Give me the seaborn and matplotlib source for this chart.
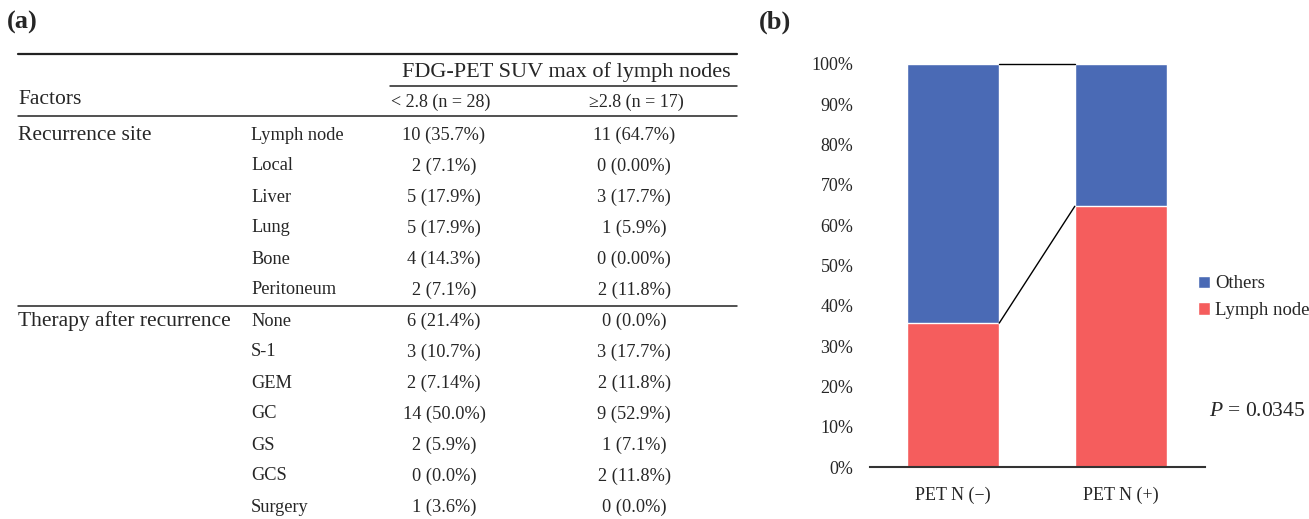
import matplotlib
matplotlib.use("Agg")
import matplotlib.pyplot as plt
from matplotlib.patches import Patch
import seaborn as sns
import pandas as pd

# ---- table data: recurrence pattern by FDG-PET SUVmax of lymph nodes ----
col_header = "FDG-PET SUV max of lymph nodes"
col_groups = ["< 2.8 (n = 28)", "\u22652.8 (n = 17)"]

recurrence_sites = ["Lymph node", "Local", "Liver", "Lung", "Bone", "Peritoneum"]
recurrence_low = ["10 (35.7%)", "2 (7.1%)", "5 (17.9%)", "5 (17.9%)", "4 (14.3%)", "2 (7.1%)"]
recurrence_high = ["11 (64.7%)", "0 (0.00%)", "3 (17.7%)", "1 (5.9%)", "0 (0.00%)", "2 (11.8%)"]

therapies = ["None", "S-1", "GEM", "GC", "GS", "GCS", "Surgery"]
therapy_low = ["6 (21.4%)", "3 (10.7%)", "2 (7.14%)", "14 (50.0%)", "2 (5.9%)", "0 (0.0%)", "1 (3.6%)"]
therapy_high = ["0 (0.0%)", "3 (17.7%)", "2 (11.8%)", "9 (52.9%)", "1 (7.1%)", "2 (11.8%)", "0 (0.0%)"]

# ---- bar data: share of lymph-node recurrence ----
pet_groups = ["PET N (\u2212)", "PET N (+)"]
lymph_node_pct = [35.7, 64.7]
others_pct = [100 - v for v in lymph_node_pct]
p_text = "= 0.0345"

BLUE = "#4A6AB5"
RED = "#F55D5D"

sns.set_theme(style="white")
plt.rcParams["font.family"] = ["Liberation Serif", "DejaVu Serif"]
plt.rcParams["mathtext.fontset"] = "custom"
plt.rcParams["mathtext.it"] = "Liberation Serif:italic"

W, H = 1309, 519
fig = plt.figure(figsize=(W / 100, H / 100), dpi=100)

# ---------------- (a) table, laid out in pixel space ----------------
tab = fig.add_axes([0, 0, 1, 1])
tab.set_xlim(0, W)
tab.set_ylim(H, 0)
tab.axis("off")
tab.patch.set_alpha(0)

FS_FACTOR = 15.5   # left-hand factor names
FS_HEAD = 16       # spanning column header
FS_GROUP = 13      # group sub-headers
FS_CELL = 13.2     # sub-labels and counts
x_factor, x_sub = 18, 251
x_cols = [444, 634]
x_groups = [441, 636]
tab.text(7, 22, "(a)", fontsize=19, fontweight="bold", va="center", ha="left")
tab.text(759, 22, "(b)", fontsize=19, fontweight="bold", va="center", ha="left")

tab.plot([18, 737], [54, 54], color="#222222", lw=1.6)
tab.text(566, 72, col_header, fontsize=FS_HEAD, ha="center", va="center")
tab.plot([390, 737], [86, 86], color="#222222", lw=1.1)
tab.text(x_factor, 99, "Factors", fontsize=FS_FACTOR, ha="left", va="center")
for xc, g in zip(x_groups, col_groups):
    tab.text(xc, 102, g, fontsize=FS_GROUP, ha="center", va="center")
tab.plot([18, 737], [116, 116], color="#222222", lw=1.1)

y0, dy = 135, 31.0
rows = list(zip(recurrence_sites, recurrence_low, recurrence_high)) + \
       list(zip(therapies, therapy_low, therapy_high))
for i, (name, lo, hi) in enumerate(rows):
    y = y0 + i * dy
    tab.text(x_sub, y, name, fontsize=FS_CELL, ha="left", va="center")
    tab.text(x_cols[0], y, lo, fontsize=FS_CELL, ha="center", va="center")
    tab.text(x_cols[1], y, hi, fontsize=FS_CELL, ha="center", va="center")
tab.text(x_factor, y0, "Recurrence site", fontsize=FS_FACTOR, ha="left", va="center")
y_ther = y0 + len(recurrence_sites) * dy
tab.text(x_factor, y_ther, "Therapy after recurrence", fontsize=FS_FACTOR, ha="left", va="center")
sep = y0 + (len(recurrence_sites) - 0.5) * dy
tab.plot([18, 737], [sep, sep], color="#222222", lw=1.1)

# ---------------- (b) stacked bar chart ----------------
ax_l, ax_r, ax_b, ax_t = 870, 1205, 467, 64
ax = fig.add_axes([ax_l / W, 1 - ax_b / H, (ax_r - ax_l) / W, (ax_b - ax_t) / H])

df = pd.DataFrame({"group": pet_groups, "lymph": lymph_node_pct, "others": others_pct})
df["total"] = df["lymph"] + df["others"]
sns.barplot(data=df, x="group", y="total", color=BLUE, saturation=1, width=0.55, ax=ax)
sns.barplot(data=df, x="group", y="lymph", color=RED, saturation=1, width=0.55, ax=ax)

# connector lines between the bars at the stack boundaries
bars_total = ax.patches[:2]
bars_lymph = ax.patches[2:4]
for bars in (bars_total, bars_lymph):
    b0, b1 = bars
    ax.plot([b0.get_x() + b0.get_width(), b1.get_x()],
            [b0.get_height(), b1.get_height()], color="black", lw=1.0, clip_on=False)

ax.set_xlim(-0.494, 1.5)
ax.set_ylim(0, 100)
ax.set_yticks(range(0, 101, 10))
ax.set_yticklabels([f"{v}%" for v in range(0, 101, 10)], fontsize=13)
ax.tick_params(axis="y", length=0, pad=12)
ax.tick_params(axis="x", length=0, pad=14, labelsize=13)
ax.set_xlabel("")
ax.set_ylabel("")
for s in ("left", "right", "top"):
    ax.spines[s].set_visible(False)
ax.spines["bottom"].set_color("#333333")
ax.spines["bottom"].set_linewidth(1.5)
ax.patch.set_alpha(0)

handles = [Patch(facecolor=BLUE, label="Others"), Patch(facecolor=RED, label="Lymph node")]
fig.legend(handles=handles, loc="upper left", bbox_to_anchor=(1190 / W, 1 - 268 / H),
           frameon=False, fontsize=13.5, handlelength=0.65, handleheight=0.65,
           handletextpad=0.3, labelspacing=0.5, borderaxespad=0)

fig.text(1209 / W, 1 - 412 / H, r"$P$ " + p_text, fontsize=15.5, ha="left", va="center")

fig.savefig("out.png", dpi=100)
